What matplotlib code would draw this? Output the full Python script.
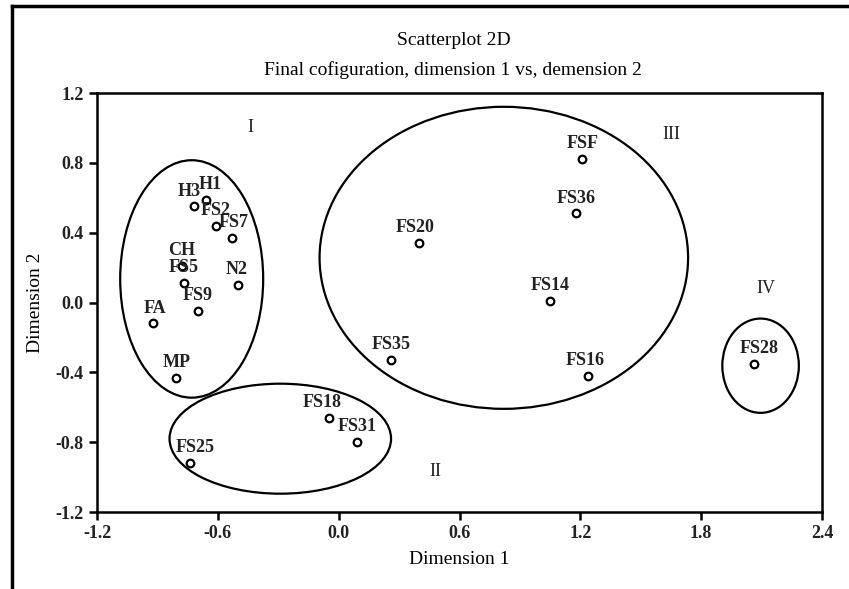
import matplotlib.pyplot as plt
from matplotlib.patches import Ellipse
from matplotlib.lines import Line2D

plt.rcParams['font.family'] = ['Liberation Serif', 'DejaVu Serif']

# MDS coordinates
names = ['FSF', 'FS36', 'FS20', 'FS14', 'FS35', 'FS16', 'FS28', 'FS18', 'FS31', 'FS25',
         'MP', 'FA', 'FS9', 'FS5', 'CH', 'N2', 'FS7', 'FS2', 'H3', 'H1']
dim1 = [1.21, 1.18, 0.40, 1.05, 0.26, 1.24, 2.06, -0.05, 0.09, -0.74,
        -0.81, -0.92, -0.70, -0.77, -0.78, -0.50, -0.53, -0.61, -0.72, -0.66]
dim2 = [0.82, 0.51, 0.34, 0.01, -0.33, -0.42, -0.35, -0.66, -0.80, -0.92,
        -0.43, -0.12, -0.05, 0.11, 0.21, 0.10, 0.37, 0.44, 0.55, 0.59]
# label offsets in points
label_dx = [0, 0, -3, 0, 0, -2, 4, -5, 0, 4,
            1, 1, 0, 0, 0, -1, 1, 0, -3, 3]

# group ellipses: centre x, centre y, width, height
groups = ['I', 'II', 'III', 'IV']
ell_x = [-0.73, -0.29, 0.82, 2.095]
ell_y = [0.135, -0.78, 0.256, -0.362]
ell_w = [0.71, 1.10, 1.83, 0.38]
ell_h = [1.36, 0.63, 1.73, 0.54]
group_x = [-0.44, 0.48, 1.65, 2.12]
group_y = [1.0, -0.97, 0.96, 0.08]

fig = plt.figure(figsize=(8.49, 5.89), dpi=100)
ax = fig.add_axes([0.1143, 0.1307, 0.8539, 0.7114])

ax.scatter(dim1, dim2, s=30, facecolors='white', edgecolors='black', linewidths=1.6, zorder=3)
for n, x, y, dx in zip(names, dim1, dim2, label_dx):
    ax.annotate(n, (x, y), xytext=(dx, 5), textcoords='offset points',
                ha='center', va='bottom', fontsize=13, fontweight='bold', color='#222222')

for cx, cy, w, h in zip(ell_x, ell_y, ell_w, ell_h):
    ax.add_patch(Ellipse((cx, cy), w, h, fill=False, edgecolor='black', linewidth=1.6))

for g, x, y in zip(groups, group_x, group_y):
    ax.text(x, y, g, ha='center', va='center', fontsize=13, color='#222222')

ax.set_xlim(-1.2, 2.4)
ax.set_ylim(-1.2, 1.2)
ax.set_xticks([-1.2, -0.6, 0.0, 0.6, 1.2, 1.8, 2.4])
ax.set_yticks([-1.2, -0.8, -0.4, 0.0, 0.4, 0.8, 1.2])
ax.set_xticklabels(['-1.2', '-0.6', '0.0', '0.6', '1.2', '1.8', '2.4'])
ax.set_yticklabels(['-1.2', '-0.8', '-0.4', '0.0', '0.4', '0.8', '1.2'])
ax.tick_params(direction='out', length=6, width=1.8, labelsize=13, colors='black')
for lab in ax.get_xticklabels() + ax.get_yticklabels():
    lab.set_fontweight('bold')
    lab.set_color('#222222')
for sp in ax.spines.values():
    sp.set_linewidth(1.8)

ax.set_xlabel('Dimension 1', fontsize=14, labelpad=6)
ax.set_ylabel('Dimension 2', fontsize=14, labelpad=8)
fig.text(0.534, 0.932, 'Scatterplot 2D', ha='center', va='center', fontsize=14)
fig.text(0.534, 0.881, 'Final cofiguration, dimension 1 vs, demension 2', ha='center', va='center', fontsize=14)

# outer frame (top and left only, as in the cropped original)
fig.add_artist(Line2D([0.0136, 1.0], [0.9898, 0.9898], color='black', linewidth=2.5, transform=fig.transFigure))
fig.add_artist(Line2D([0.0136, 0.0136], [0.0, 0.9898], color='black', linewidth=2.5, transform=fig.transFigure))

fig.savefig('out.png', dpi=100)
